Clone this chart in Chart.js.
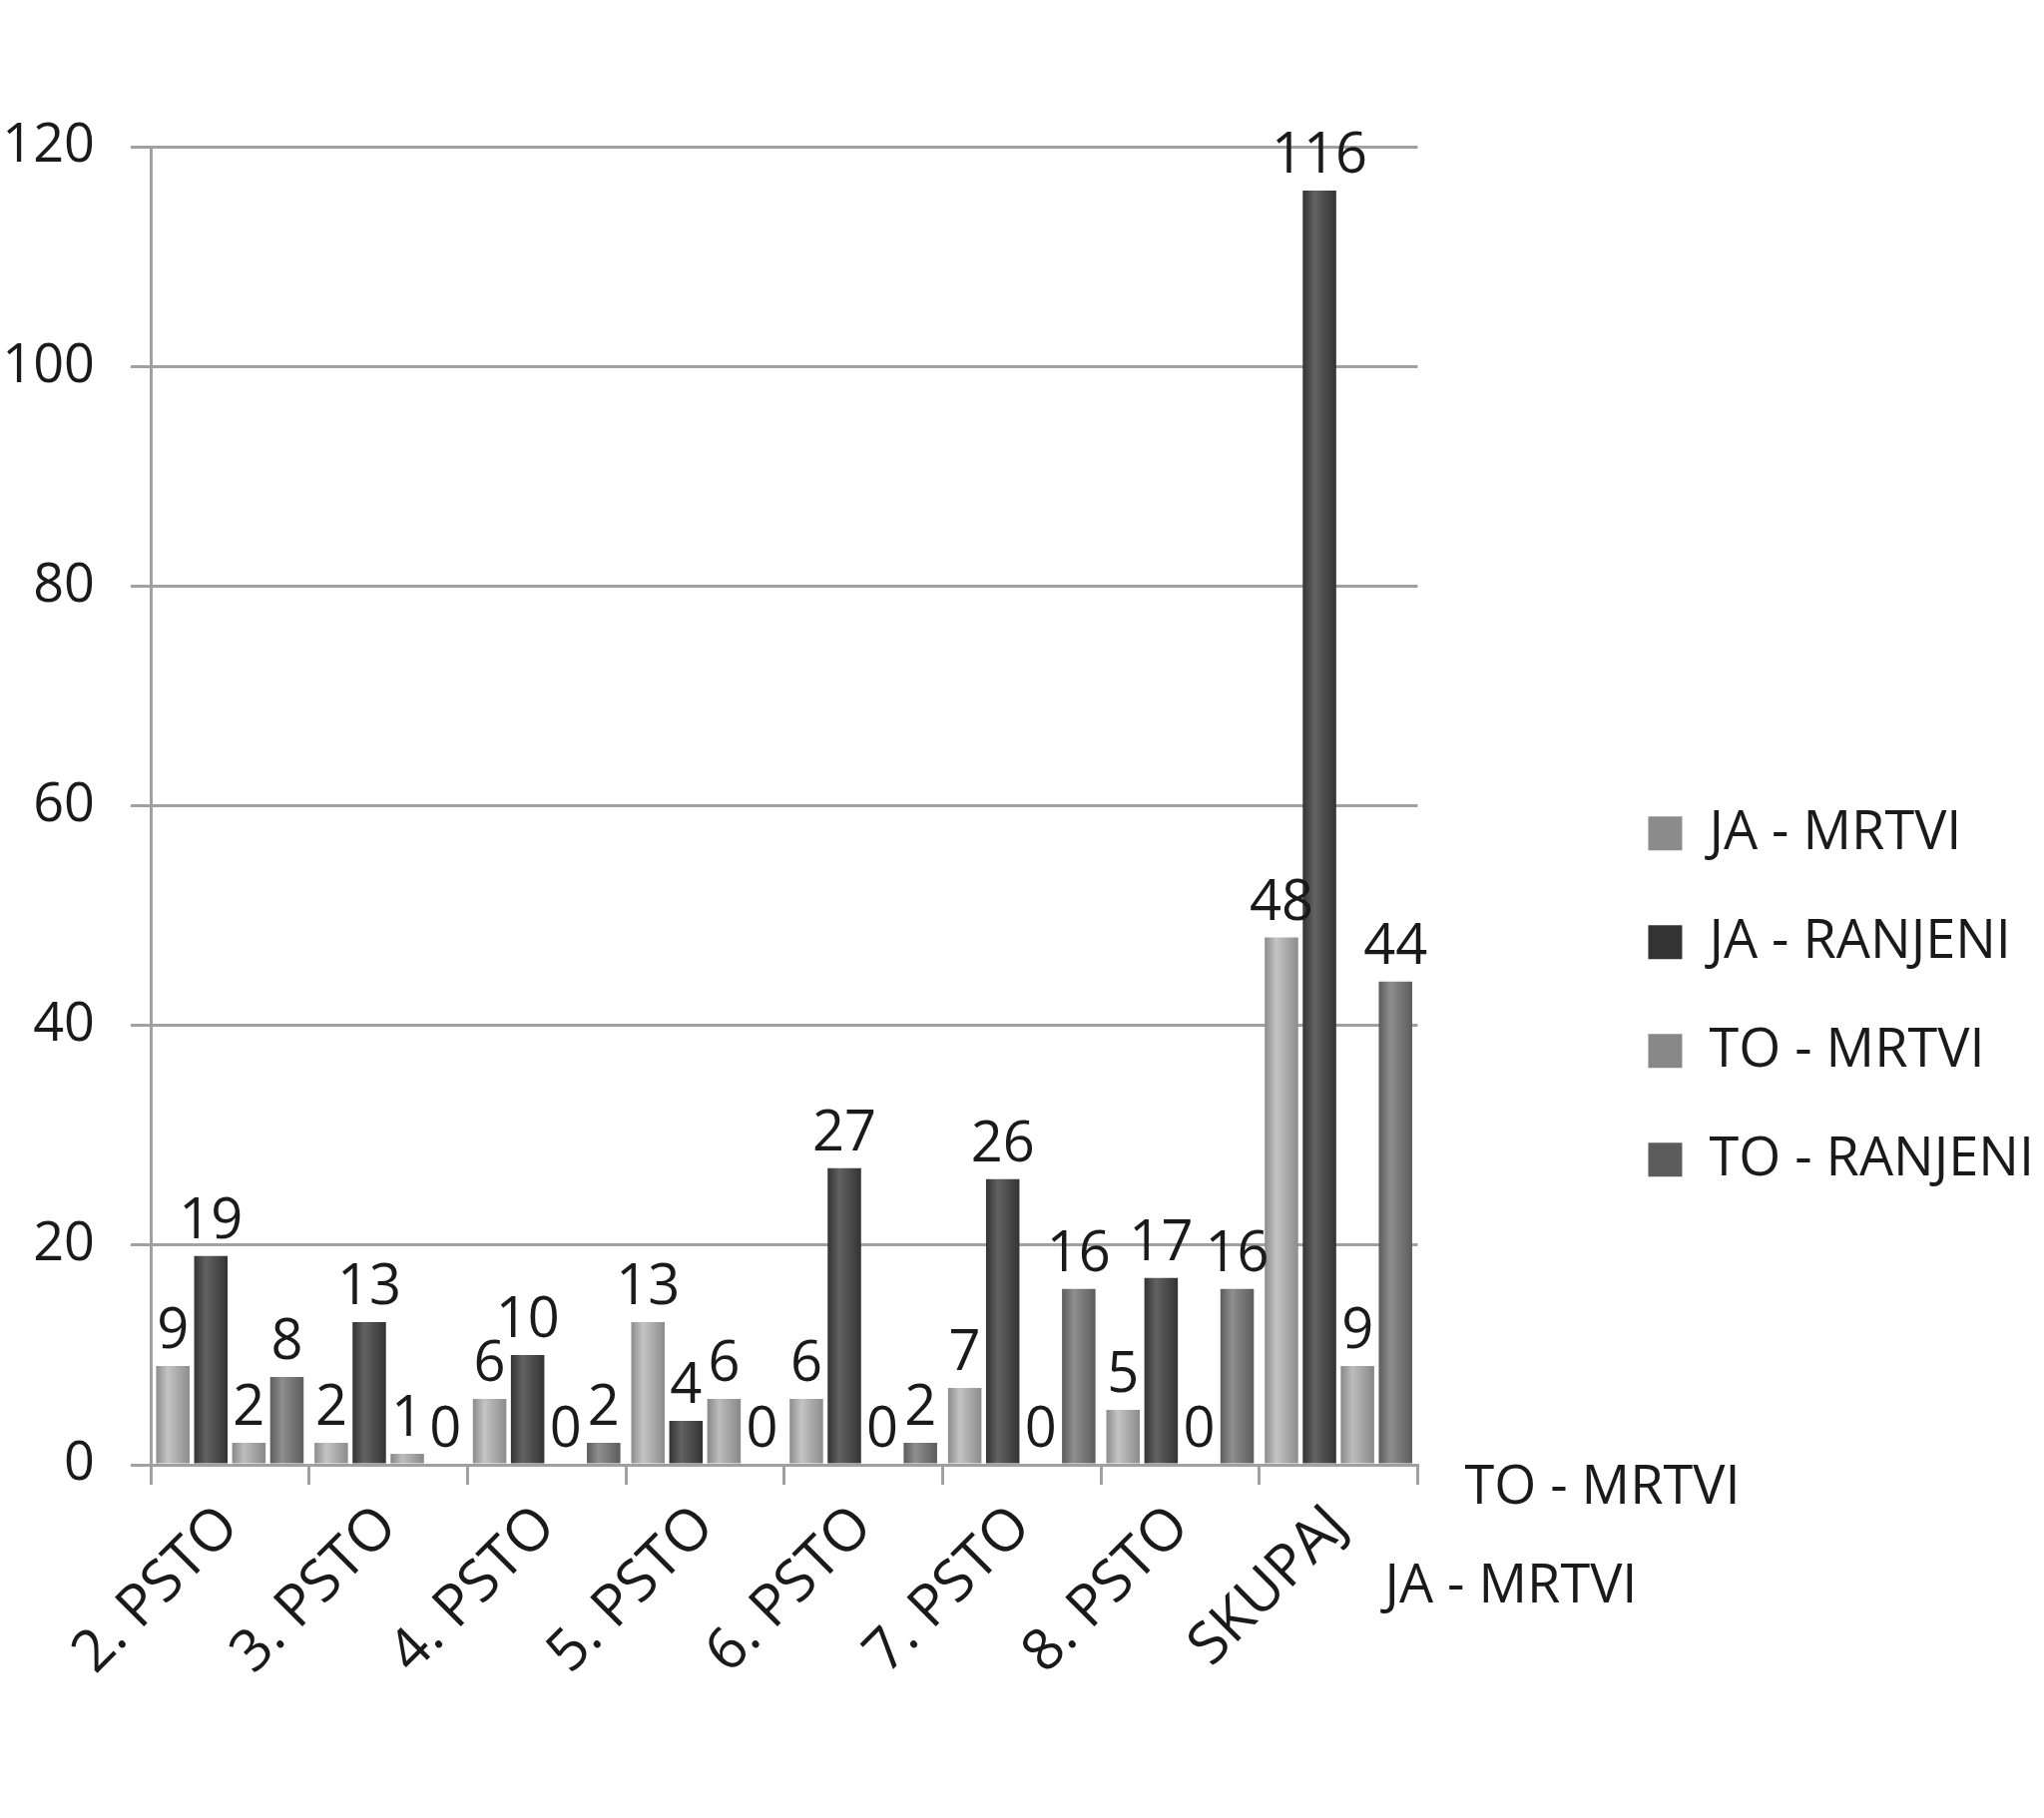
<!DOCTYPE html>
<html>
<head>
<meta charset="utf-8">
<script src="https://cdn.jsdelivr.net/npm/chart.js@4.4.1/dist/chart.umd.min.js"></script>
<style>
  html, body { margin: 0; padding: 0; background: #fff; }
  #wrap { width: 2048px; height: 1822px; }
</style>
</head>
<body>
<div id="wrap"><canvas id="chart"></canvas></div>
<script>
// values
const categories = ['2. PSTO', '3. PSTO', '4. PSTO', '5. PSTO', '6. PSTO', '7. PSTO', '8. PSTO', 'SKUPAJ'];
const jaMrtvi   = [9, 2, 6, 13, 6, 7, 5, 48];
const jaRanjeni = [19, 13, 10, 4, 27, 26, 17, 116];
const toMrtvi   = [2, 1, 0, 6, 0, 0, 0, 9];
const toRanjeni = [8, 0, 2, 0, 2, 16, 16, 44];
const yTicks = [0, 20, 40, 60, 80, 100, 120];
const depthLabels = ['JA - MRTVI', 'TO - MRTVI'];

const FONT = "'Open Sans', sans-serif";
const TEXT = '#1a1a1a';
const GRID = '#a0a0a0';
const CAT_PCT = 0.96;
const BAR_PCT = 0.88;

// horizontal gradient per bar so the columns read a bit like cylinders
function cylinder(base, light, dark) {
  return (c) => {
    const chart = c.chart;
    const xs = chart.scales.x;
    if (c.type !== 'data' || !xs || !chart.chartArea) return base;
    const n = chart.data.datasets.length;
    const catW = xs.width / chart.data.labels.length;
    const slot = catW * CAT_PCT / n;
    const cx = xs.getPixelForValue(c.dataIndex) - catW * CAT_PCT / 2 + slot * (c.datasetIndex + 0.5);
    const w = slot * BAR_PCT;
    const g = chart.ctx.createLinearGradient(cx - w / 2, 0, cx + w / 2, 0);
    g.addColorStop(0, dark);
    g.addColorStop(0.35, light);
    g.addColorStop(1, dark);
    return g;
  };
}

const valueLabels = {
  id: 'valueLabels',
  afterDatasetsDraw(chart) {
    const { ctx } = chart;
    ctx.save();
    ctx.font = `56px ${FONT}`;
    ctx.fillStyle = TEXT;
    ctx.textAlign = 'center';
    ctx.textBaseline = 'bottom';
    chart.data.datasets.forEach((ds, di) => {
      chart.getDatasetMeta(di).data.forEach((el, i) => {
        ctx.fillText(String(ds.data[i]), el.x, el.y - 6);
      });
    });
    ctx.restore();
  }
};

// the two series names shown along the depth axis of the original
const depthAxisLabels = {
  id: 'depthAxisLabels',
  afterDraw(chart) {
    const { ctx, chartArea } = chart;
    ctx.save();
    ctx.font = `54px ${FONT}`;
    ctx.fillStyle = TEXT;
    ctx.textAlign = 'left';
    ctx.textBaseline = 'middle';
    ctx.fillText(depthLabels[1], chartArea.right + 47, chartArea.bottom + 24);
    ctx.fillText(depthLabels[0], chartArea.right - 33, chartArea.bottom + 123);
    ctx.restore();
  }
};

const data = {
  labels: categories,
  datasets: [
    { label: 'JA - MRTVI', data: jaMrtvi, backgroundColor: cylinder('#a8a8a8', '#c4c4c4', '#8c8c8c') },
    { label: 'JA - RANJENI', data: jaRanjeni, backgroundColor: cylinder('#4c4c4c', '#626262', '#333333') },
    { label: 'TO - MRTVI', data: toMrtvi, backgroundColor: cylinder('#a3a3a3', '#bdbdbd', '#888888') },
    { label: 'TO - RANJENI', data: toRanjeni, backgroundColor: cylinder('#767676', '#8e8e8e', '#5c5c5c') }
  ]
};

new Chart(document.getElementById('chart'), {
  type: 'bar',
  data,
  options: {
    responsive: true,
    maintainAspectRatio: false,
    devicePixelRatio: 1,
    animation: false,
    layout: { padding: { top: 147 } },
    datasets: {
      bar: { categoryPercentage: CAT_PCT, barPercentage: BAR_PCT, borderWidth: 0 }
    },
    plugins: {
      tooltip: { enabled: false },
      legend: {
        position: 'right',
        maxWidth: 470,
        title: { display: true, text: '', padding: { top: 14, bottom: 0 } },
        labels: {
          font: { family: FONT, size: 54 },
          color: TEXT,
          boxWidth: 34,
          boxHeight: 34,
          padding: 55
        }
      }
    },
    scales: {
      x: {
        offset: true,
        grid: { display: true, drawOnChartArea: false, drawTicks: true, tickLength: 20, color: GRID, lineWidth: 3 },
        border: { display: true, color: GRID, width: 3 },
        ticks: {
          font: { family: FONT, size: 58 },
          color: TEXT,
          minRotation: 45,
          maxRotation: 45,
          padding: 8
        },
        afterFit: (s) => { s.height = 354; s.paddingLeft = 0; s.paddingRight = 0; }
      },
      y: {
        min: 0,
        max: 120,
        afterBuildTicks: (s) => { s.ticks = yTicks.map((v) => ({ value: v })); },
        grid: { color: GRID, lineWidth: 3, tickLength: 20 },
        border: { display: true, color: GRID, width: 3 },
        ticks: { font: { family: FONT, size: 54 }, color: TEXT, padding: 36 },
        afterFit: (s) => { s.width = 151; }
      },
      depth: {
        position: 'right',
        display: true,
        grid: { display: false },
        border: { display: false },
        ticks: { display: false },
        afterFit: (s) => { s.width = 176; }
      }
    }
  },
  plugins: [valueLabels, depthAxisLabels]
});
</script>
</body>
</html>
